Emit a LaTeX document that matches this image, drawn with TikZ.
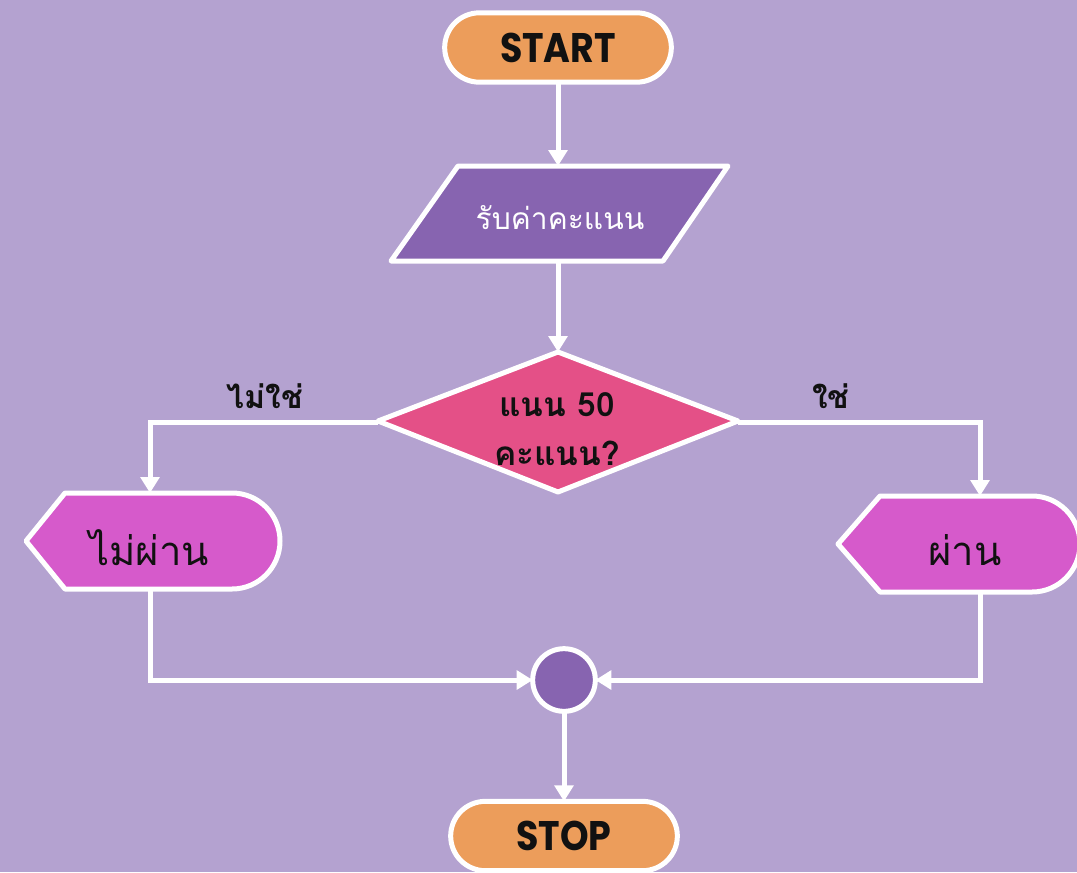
\documentclass[tikz,border=0pt]{standalone}
\usepackage{fontspec}
\usetikzlibrary{arrows.meta,shapes.misc}
\newfontfamily\thai[Script=Thai]{Loma}
\newfontfamily\poppins[FakeStretch=0.88]{Poppins}
\definecolor{bgc}{HTML}{B4A2D0}
\definecolor{orangec}{HTML}{EC9D5B}
\definecolor{purpc}{HTML}{8764B0}
\definecolor{pinkc}{HTML}{E45087}
\definecolor{magc}{HTML}{D65ACB}
\definecolor{inkc}{HTML}{111111}
\tikzset{
  wline/.style={draw=white, line width=3.75pt, line join=round},
  arr/.style={draw=white, line width=3.75pt, -{Triangle[length=12pt,width=14pt]}},
  term/.style={rounded rectangle, rounded rectangle arc length=180, fill=orangec, wline,
    minimum width=170pt, minimum height=52pt, inner sep=0pt, outer sep=0pt,
    font=\poppins\bfseries\fontsize{31}{33}\selectfont, text=inkc},
  holder/.style 2 args={minimum width=#1*0.75pt, minimum height=#2*0.75pt, inner sep=0pt, outer sep=0pt},
  thaitxt/.style={font=\thai\fontsize{#1}{#1}\selectfont, text=inkc, inner sep=0pt},
  thaibold/.style={font=\thai\bfseries\fontsize{#1}{#1}\selectfont, text=inkc, inner sep=0pt},
}
\begin{document}
\begin{tikzpicture}[x=0.75pt,y=-0.75pt]
\useasboundingbox (0,0) rectangle (1077,872);
\fill[bgc] (0,0) rectangle (1077,872);

% START
\node[term] (start) at (558,47.5) {START};

% input parallelogram
\path[wline, fill=purpc] (458,166) -- (728,166) -- (663,261) -- (391,261) -- cycle;
\node[holder={337}{95}] (input) at (558,213.5) {};
\node[thaitxt=22.5, text=white] (inputtxt) at (560,218) {รับค่าคะแนน};

% decision diamond
\path[wline, fill=pinkc] (558,352) -- (738,421) -- (558,492) -- (378,421) -- cycle;
\node[holder={360}{140}] (dec) at (558,422) {};
\node[thaibold=25] (dectop) at (557,405) {แนน 50};
\node[thaibold=25] (decbot) at (557,453) {คะแนน?};

% branch labels
\node[thaibold=24] (nolbl) at (265,396) {ไม่ใช่};
\node[thaibold=24] (yeslbl) at (831,396) {ใช่};

% fail display shape
\path[wline, fill=magc] (26,541) -- (65,493) -- (232,493) arc (-90:90:48) -- (65,589) -- cycle;
\node[holder={248}{96}] (fail) at (150,541) {};
\node[thaitxt=30] (failtxt) at (149,548) {ไม่ผ่าน};

% pass display shape
\path[wline, fill=magc] (838,544) -- (880,496) -- (1032,496) arc (-90:90:48) -- (880,592) -- cycle;
\node[holder={284}{96}] (pass) at (980,544) {};
\node[thaitxt=30] (passtxt) at (965,550) {ผ่าน};

% join circle
\node[circle, fill=purpc, wline, minimum size=47pt, inner sep=0pt, outer sep=0pt] (join) at (564,680) {};

% STOP
\node[term] (stop) at (564,836) {STOP};

% connectors
\draw[arr] (start.south) -- (input.north);
\draw[arr] (input.south) -- (dec.north);
\draw[arr] (dec.west) -| (fail.north);
\draw[arr] (dec.east) -| (pass.north);
\draw[arr] (fail.south) |- (join.west);
\draw[arr] (pass.south) |- (join.east);
\draw[arr] (join.south) -- (stop.north);
\end{tikzpicture}
\end{document}
